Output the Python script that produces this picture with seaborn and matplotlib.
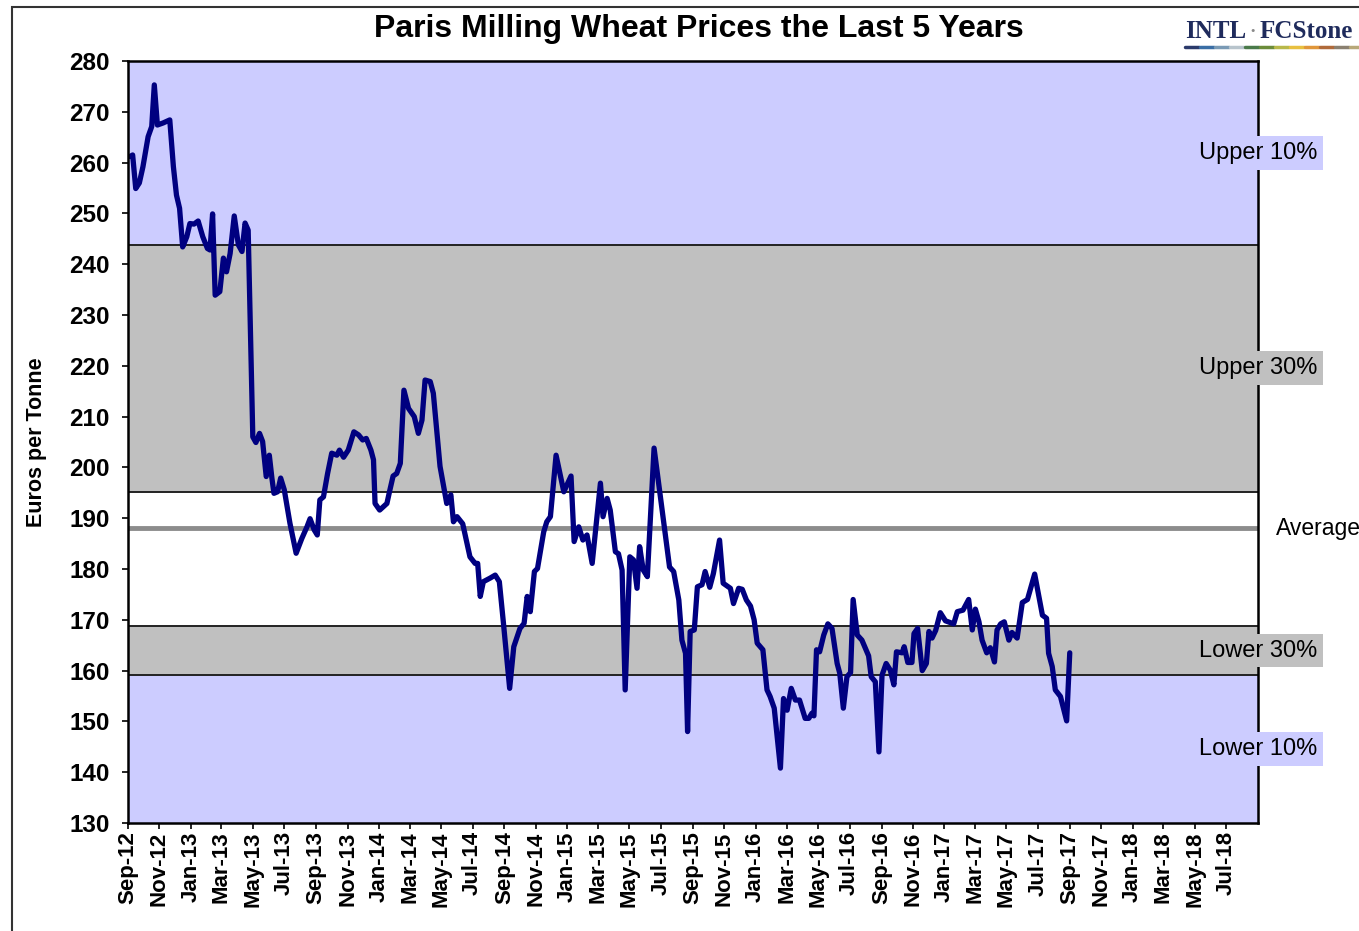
import pandas as pd
import matplotlib
matplotlib.use("Agg")
import matplotlib.pyplot as plt
import matplotlib.dates as mdates
import matplotlib.transforms as mtransforms
import seaborn as sns

sns.set_theme(style="white")
plt.rcParams["font.family"] = ["Liberation Sans", "DejaVu Sans"]
plt.rcParams["text.color"] = "black"
plt.rcParams["axes.labelcolor"] = "black"

# Weekly price turning points (euros per tonne)
price_dates = [
    "2012-09-05", "2012-09-10", "2012-09-16", "2012-09-23", "2012-09-30", "2012-10-10", "2012-10-17",
    "2012-10-22", "2012-10-28", "2012-11-08", "2012-11-21", "2012-11-28", "2012-12-04", "2012-12-10",
    "2012-12-16", "2012-12-24", "2012-12-30", "2013-01-07", "2013-01-15", "2013-01-24", "2013-02-02",
    "2013-02-07", "2013-02-12", "2013-02-17", "2013-02-26", "2013-03-05", "2013-03-11", "2013-03-18",
    "2013-03-26", "2013-04-03", "2013-04-10", "2013-04-16", "2013-04-22", "2013-05-01", "2013-05-07",
    "2013-05-14", "2013-05-20", "2013-05-27", "2013-06-02", "2013-06-07", "2013-06-11", "2013-06-18",
    "2013-06-24", "2013-07-01", "2013-07-12", "2013-07-24", "2013-08-04", "2013-08-14", "2013-08-20",
    "2013-08-28", "2013-09-03", "2013-09-08", "2013-09-15", "2013-09-23", "2013-10-01", "2013-10-11",
    "2013-10-16", "2013-10-24", "2013-11-02", "2013-11-13", "2013-11-22", "2013-11-30", "2013-12-07",
    "2013-12-16", "2013-12-21", "2013-12-24", "2014-01-02", "2014-01-16", "2014-01-21", "2014-01-28",
    "2014-02-04", "2014-02-11", "2014-02-18", "2014-02-27", "2014-03-10", "2014-03-18", "2014-03-25",
    "2014-03-31", "2014-04-10", "2014-04-16", "2014-04-29", "2014-05-12", "2014-05-20", "2014-05-25",
    "2014-06-01", "2014-06-12", "2014-06-26", "2014-07-06", "2014-07-11", "2014-07-16", "2014-07-22",
    "2014-08-04", "2014-08-14", "2014-08-22", "2014-08-30", "2014-09-11", "2014-09-19", "2014-10-01",
    "2014-10-09", "2014-10-15", "2014-10-21", "2014-10-29", "2014-11-04", "2014-11-16", "2014-11-22",
    "2014-11-29", "2014-12-10", "2014-12-25", "2015-01-08", "2015-01-14", "2015-01-23", "2015-01-31",
    "2015-02-08", "2015-02-18", "2015-03-06", "2015-03-11", "2015-03-19", "2015-03-25", "2015-04-04",
    "2015-04-10", "2015-04-17", "2015-04-23", "2015-05-02", "2015-05-09", "2015-05-16", "2015-05-21",
    "2015-05-28", "2015-06-05", "2015-06-18", "2015-07-07", "2015-07-18", "2015-07-26", "2015-08-05",
    "2015-08-11", "2015-08-18", "2015-08-22", "2015-08-27", "2015-09-04", "2015-09-10", "2015-09-19",
    "2015-09-25", "2015-10-04", "2015-10-11", "2015-10-23", "2015-10-30", "2015-11-13", "2015-11-19",
    "2015-11-29", "2015-12-06", "2015-12-14", "2015-12-22", "2015-12-29", "2016-01-04", "2016-01-15",
    "2016-01-23", "2016-01-29", "2016-02-06", "2016-02-18", "2016-02-24", "2016-03-02", "2016-03-10",
    "2016-03-18", "2016-03-26", "2016-04-06", "2016-04-13", "2016-04-19", "2016-04-23", "2016-04-28",
    "2016-05-04", "2016-05-12", "2016-05-20", "2016-05-28", "2016-06-07", "2016-06-12", "2016-06-19",
    "2016-06-26", "2016-07-03", "2016-07-08", "2016-07-16", "2016-07-25", "2016-08-07", "2016-08-12",
    "2016-08-20", "2016-08-27", "2016-09-02", "2016-09-10", "2016-09-18", "2016-09-25", "2016-09-30",
    "2016-10-11", "2016-10-15", "2016-10-22", "2016-10-30", "2016-11-03", "2016-11-10", "2016-11-19",
    "2016-11-27", "2016-12-02", "2016-12-08", "2016-12-15", "2016-12-24", "2017-01-03", "2017-01-19",
    "2017-01-26", "2017-02-06", "2017-02-17", "2017-02-24", "2017-03-02", "2017-03-09", "2017-03-15",
    "2017-03-24", "2017-03-31", "2017-04-08", "2017-04-13", "2017-04-20", "2017-04-27", "2017-05-06",
    "2017-05-12", "2017-05-22", "2017-06-01", "2017-06-11", "2017-06-25", "2017-07-10", "2017-07-18",
    "2017-07-22", "2017-07-29", "2017-08-04", "2017-08-14", "2017-08-26", "2017-09-01",
]
prices = [
    261.2, 261.5, 254.9, 256.0, 259.2, 265.1, 267.1,
    275.3, 267.4, 267.8, 268.4, 259.2, 253.6, 251.0,
    243.4, 245.4, 248.0, 247.9, 248.5, 245.4, 243.1,
    242.8, 249.9, 233.9, 234.6, 241.2, 238.5, 242.1,
    249.5, 243.8, 242.5, 248.1, 246.7, 206.0, 204.9,
    206.7, 205.1, 198.2, 202.4, 197.9, 194.9, 195.2,
    197.9, 195.6, 189.0, 183.1, 186.0, 188.3, 189.9,
    187.7, 186.7, 193.6, 194.2, 198.8, 202.8, 202.4,
    203.4, 202.0, 203.4, 207.0, 206.4, 205.4, 205.7,
    203.4, 201.5, 192.9, 191.6, 192.9, 195.2, 198.3,
    198.8, 200.8, 215.2, 211.6, 210.0, 206.7, 209.3,
    217.2, 216.9, 214.6, 200.2, 192.9, 194.6, 189.3,
    190.3, 188.9, 182.4, 181.1, 181.1, 174.6, 177.5,
    178.2, 178.8, 177.5, 169.3, 156.5, 164.7, 168.3,
    169.3, 174.6, 171.6, 179.5, 180.1, 187.3, 189.3,
    190.3, 202.4, 195.2, 198.3, 185.4, 188.3, 185.7,
    186.7, 181.1, 196.9, 190.3, 193.9, 191.6, 183.4,
    183.0, 179.8, 156.2, 182.4, 181.8, 176.2, 184.4,
    179.8, 178.5, 203.8, 189.0, 180.4, 179.5, 173.9,
    166.0, 163.4, 148.0, 167.7, 168.0, 176.5, 176.9,
    179.5, 176.4, 179.1, 185.7, 177.2, 176.2, 173.2,
    176.2, 176.0, 173.9, 172.7, 170.0, 165.4, 164.1,
    156.2, 154.9, 152.6, 140.8, 154.5, 152.2, 156.5,
    154.2, 154.2, 150.6, 150.6, 151.6, 151.1, 164.1,
    163.7, 167.0, 169.2, 168.3, 161.4, 159.5, 152.6,
    158.8, 159.6, 174.0, 167.0, 166.0, 162.9, 158.8,
    157.8, 144.0, 159.1, 161.4, 160.1, 157.2, 163.7,
    163.5, 164.7, 161.6, 161.6, 167.3, 168.3, 160.0,
    161.4, 167.7, 166.4, 167.9, 171.4, 169.8, 169.2,
    171.6, 171.9, 174.0, 168.0, 172.1, 169.6, 166.0,
    163.5, 164.5, 161.7, 168.0, 169.2, 169.6, 166.0,
    167.5, 166.4, 173.4, 174.0, 179.0, 170.9, 170.3,
    163.4, 160.8, 156.2, 154.9, 150.1, 163.5,
]

# Percentile bands (lower edge, upper edge, label)
band_edges = [130, 159.1, 168.8, 195.2, 243.8, 280]
band_names = ["Lower 10%", "Lower 30%", None, "Upper 30%", "Upper 10%"]
band_colors = ["#ccccff", "#c0c0c0", "#ffffff", "#c0c0c0", "#ccccff"]
average_price = 188.0

navy = "#000080"

df = pd.DataFrame({"Date": pd.to_datetime(price_dates), "Price": prices})

fig = plt.figure(figsize=(13.59, 9.31), dpi=100)
ax = fig.add_axes([128 / 1359, 1 - 823 / 931, 1130 / 1359, 762 / 931])

# shaded bands
for i in range(len(band_colors)):
    ax.axhspan(band_edges[i], band_edges[i + 1], color=band_colors[i], zorder=0, lw=0)
for edge in band_edges[1:-1]:
    ax.axhline(edge, color="#222222", lw=1.4, zorder=1)
ax.axhline(average_price, color="#8c8c8c", lw=3.5, zorder=1)

sns.lineplot(data=df, x="Date", y="Price", ax=ax, color=navy, lw=3.8, zorder=3)

ax.set_xlim(pd.Timestamp("2012-09-01"), pd.Timestamp("2018-09-01"))
ax.set_ylim(130, 280)
ax.set_yticks(range(130, 281, 10))
ax.xaxis.set_major_locator(mdates.MonthLocator(bymonth=[1, 3, 5, 7, 9, 11]))
ax.xaxis.set_major_formatter(mdates.DateFormatter("%b-%y"))
ticks = [t for t in ax.get_xticks() if t <= mdates.date2num(pd.Timestamp("2018-07-01"))]
ax.set_xticks(ticks)

for label in ax.get_yticklabels():
    label.set_fontweight("bold")
    label.set_fontsize(17.5)
for label in ax.get_xticklabels():
    label.set_fontweight("bold")
    label.set_fontsize(16)
    label.set_rotation(90)

ax.tick_params(axis="y", direction="out", length=4, width=1.2, pad=9, colors="black", left=True)
ax.tick_params(axis="x", direction="out", length=4, width=1.2, pad=2, colors="black", bottom=True)
ax.set_xlabel("")
ax.set_ylabel("Euros per Tonne", fontsize=15.5, fontweight="bold")
ax.yaxis.set_label_coords(-0.0717, 0.5)

for spine in ax.spines.values():
    spine.set_color("black")
    spine.set_linewidth(1.8)
    spine.set_zorder(4)

# band labels on the right edge
trans = mtransforms.blended_transform_factory(ax.transAxes, ax.transData)
for i, name in enumerate(band_names):
    if name is None:
        continue
    mid = (band_edges[i] + band_edges[i + 1]) / 2
    ax.text(1.0, mid, name, transform=trans, ha="center", va="center", fontsize=17,
            bbox=dict(boxstyle="square,pad=0.25", fc=band_colors[i], ec="none"),
            zorder=6, clip_on=False)
ax.text(1.016, average_price, "Average", transform=trans, ha="left", va="center",
        fontsize=16.5, zorder=6, clip_on=False)

fig.text(0.514, 0.969, "Paris Milling Wheat Prices the Last 5 Years", ha="center", va="center",
         fontsize=23, fontweight="bold")

# logo
logo_font = ["Liberation Serif", "DejaVu Serif"]
fig.text(1185 / 1359, 1 - 32 / 931, "INTL", ha="left", va="center", fontsize=18,
         fontweight="bold", color="#1f2b5c", family=logo_font)
fig.text(1253 / 1359, 1 - 32 / 931, "\u00b7", ha="center", va="center", fontsize=14,
         fontweight="bold", color="#8a8a8a", family=logo_font)
fig.text(1260 / 1359, 1 - 32 / 931, "FCStone", ha="left", va="center", fontsize=18,
         fontweight="bold", color="#1f2b5c", family=logo_font)
logo_colors = ["#2b3a6b", "#3a6ea5", "#7a9ab5", "#b8c4cc", "#4a7a4a", "#6b8c3a",
               "#b8b84a", "#e8c040", "#e0963a", "#b06a3a", "#8a8070", "#b8a878"]
seg = 15 / 1359
for k, c in enumerate(logo_colors):
    x0 = 1185 / 1359 + k * seg
    fig.add_artist(plt.Line2D([x0, x0 + seg * 0.95], [1 - 47 / 931] * 2, color=c, lw=2.5,
                              transform=fig.transFigure))

# outer chart frame
fig.add_artist(plt.Rectangle((12 / 1359, -0.01), 1.0, 1 - 7 / 931 + 0.01, fill=False,
                             ec="#333333", lw=1.5, transform=fig.transFigure))

fig.savefig("out.png", dpi=100)
